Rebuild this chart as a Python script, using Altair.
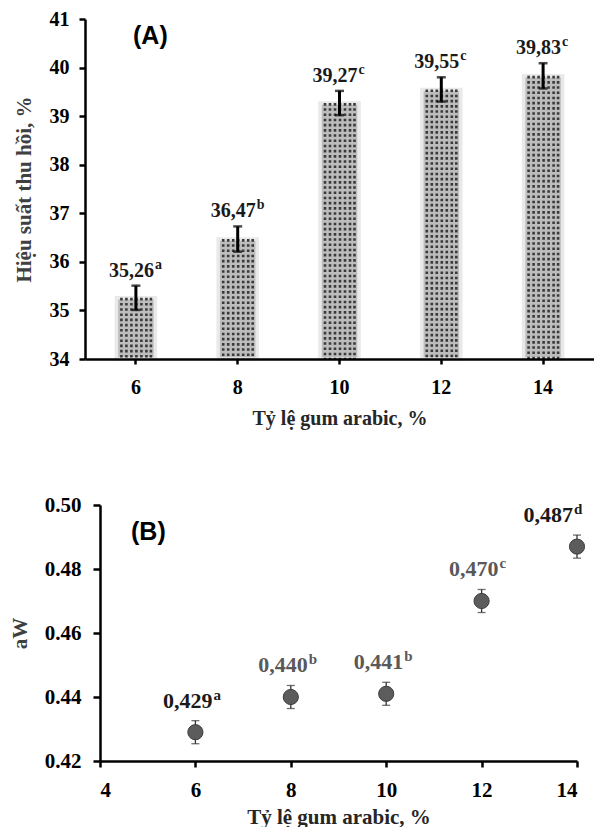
import altair as alt
import pandas as pd

# ---- data ----
gum = [6, 8, 10, 12, 14]
recovery = [35.26, 36.47, 39.27, 39.55, 39.83]
recovery_err = [0.25, 0.26, 0.25, 0.25, 0.26]
recovery_letters = ["a", "b", "c", "c", "c"]

aw = [0.429, 0.440, 0.441, 0.470, 0.487]
aw_err = [0.0036, 0.0036, 0.0036, 0.0036, 0.0036]
aw_letters = ["a", "b", "b", "c", "d"]

y_ticks_a = [34, 35, 36, 37, 38, 39, 40, 41]
x_ticks_b = [4, 6, 8, 10, 12, 14]
y_ticks_b = [0.42, 0.44, 0.46, 0.48, 0.50]

x_title = "Tỷ lệ gum arabic, %"
y_title_a = "Hiệu suất thu hồi, %"
y_title_b = "aW"

SERIF = "Times New Roman, Liberation Serif, serif"
SANS = "Arial, Liberation Sans, sans-serif"

dfa = pd.DataFrame({"gum": gum, "val": recovery, "err": recovery_err, "sup": recovery_letters})
dfa["lo"] = dfa["val"] - dfa["err"]
dfa["hi"] = dfa["val"] + dfa["err"]
dfa["lab"] = dfa["val"].map(lambda v: f"{v:.2f}".replace(".", ","))

dfb = pd.DataFrame({"gum": gum, "val": aw, "err": aw_err, "sup": aw_letters})
dfb["lo"] = dfb["val"] - dfb["err"]
dfb["hi"] = dfb["val"] + dfb["err"]
dfb["lab"] = dfb["val"].map(lambda v: f"{v:.3f}".replace(".", ","))

# ---------------- Panel A ----------------
ya_min = min(y_ticks_a)
xa = alt.X("gum:O", sort=gum,
           scale=alt.Scale(paddingInner=0, paddingOuter=0),
           axis=alt.Axis(title=x_title, labelAngle=0, labelFont=SERIF, labelFontSize=20,
                         labelFontWeight="bold", labelColor="#000000", labelPadding=13,
                         tickSize=5, tickWidth=2.5, tickColor="#000000",
                         domainWidth=2.5, domainColor="#000000",
                         titleFont=SERIF, titleFontSize=20, titleFontWeight="bold",
                         titleColor="#262626", titlePadding=11, zindex=1))
ya_scale = alt.Scale(domain=[ya_min, max(y_ticks_a)], nice=False, zero=False)
ya = alt.Y("val:Q", scale=ya_scale,
           axis=alt.Axis(title=y_title_a, values=y_ticks_a, grid=False,
                         labelFont=SERIF, labelFontSize=20, labelFontWeight="bold",
                         labelColor="#000000", labelPadding=10,
                         tickSize=6, tickWidth=2.5, tickColor="#000000",
                         domainWidth=2.5, domainColor="#000000",
                         titleFont=SERIF, titleFontSize=21, titleFontWeight="bold",
                         titleColor="#404040", titlePadding=15, zindex=1))

base_a = alt.Chart(dfa)

bars = base_a.mark_bar(size=39, fill="#bdbdbd", stroke="#e9e9e9", strokeWidth=3.5).encode(
    x=xa, y=ya, y2=alt.datum(ya_min))

dots = [
    base_a.mark_rule(xOffset=off, strokeDash=[2.6, 2.6], strokeWidth=2.6, color="#3a3a3a").encode(
        x=alt.X("gum:O", sort=gum), y=alt.Y("val:Q"), y2=alt.datum(ya_min))
    for off in [-14.5, -9.5, -4.5, 0.5, 5.5, 10.5, 15.0]
]

err_a = base_a.mark_rule(strokeWidth=3, color="#000000").encode(
    x=alt.X("gum:O", sort=gum), y=alt.Y("lo:Q"), y2="hi:Q")
cap_lo_a = base_a.mark_tick(size=9, thickness=2.5, color="#000000").encode(
    x=alt.X("gum:O", sort=gum), y=alt.Y("lo:Q"))
cap_hi_a = base_a.mark_tick(size=9, thickness=2.5, color="#000000").encode(
    x=alt.X("gum:O", sort=gum), y=alt.Y("hi:Q"))

lab_a = base_a.mark_text(align="right", baseline="alphabetic", dx=18, dy=-9,
                         font=SERIF, fontSize=20, fontWeight="bold", color="#1a1a1a").encode(
    x=alt.X("gum:O", sort=gum), y=alt.Y("hi:Q"), text="lab:N")
sup_a = base_a.mark_text(align="left", baseline="alphabetic", dx=19, dy=-17,
                         font=SERIF, fontSize=14, fontWeight="bold", color="#1a1a1a").encode(
    x=alt.X("gum:O", sort=gum), y=alt.Y("hi:Q"), text="sup:N")

tag_a = alt.Chart(pd.DataFrame({"t": ["(A)"]})).mark_text(
    align="left", baseline="alphabetic", font=SANS, fontSize=25, fontWeight="bold",
    color="#000000").encode(x=alt.value(48), y=alt.value(25), text="t:N")

panel_a = alt.layer(bars, *dots, err_a, cap_lo_a, cap_hi_a, lab_a, sup_a, tag_a).properties(
    width=509, height=340)

# ---------------- Panel B ----------------
# panel B's plot starts 15px to the right of panel A's
B_SHIFT = 15
B_W = 477
xb = alt.X("gum:Q", scale=alt.Scale(domain=[min(x_ticks_b), max(x_ticks_b)], nice=False, zero=False,
                                    range=[B_SHIFT, B_SHIFT + B_W]),
           axis=alt.Axis(title=x_title, values=x_ticks_b, grid=False, labelFont=SERIF,
                         labelFontSize=21, labelFontWeight="bold", labelColor="#000000",
                         labelPadding=12, tickSize=6, tickWidth=2.5, tickColor="#000000",
                         domainWidth=2.5, domainColor="#000000",
                         titleFont=SERIF, titleFontSize=21, titleFontWeight="bold",
                         titleColor="#262626", titlePadding=6, zindex=1))
yb = alt.Y("val:Q", scale=alt.Scale(domain=[min(y_ticks_b), max(y_ticks_b)], nice=False, zero=False),
           axis=alt.Axis(title=y_title_b, values=y_ticks_b, format=".2f", grid=False, offset=-B_SHIFT,
                         labelFont=SERIF, labelFontSize=21, labelFontWeight="bold",
                         labelColor="#000000", labelPadding=12,
                         tickSize=7, tickWidth=2.5, tickColor="#000000",
                         domainWidth=2.5, domainColor="#000000",
                         titleFont=SERIF, titleFontSize=21, titleFontWeight="bold",
                         titleColor="#404040", titlePadding=14, zindex=1))

base_b = alt.Chart(dfb)
err_b = base_b.mark_rule(strokeWidth=1.3, color="#333333").encode(
    x=alt.X("gum:Q"), y=alt.Y("lo:Q"), y2="hi:Q")
cap_lo_b = base_b.mark_tick(size=8, thickness=1.3, color="#333333", orient="horizontal").encode(
    x=alt.X("gum:Q"), y=alt.Y("lo:Q"))
cap_hi_b = base_b.mark_tick(size=8, thickness=1.3, color="#333333", orient="horizontal").encode(
    x=alt.X("gum:Q"), y=alt.Y("hi:Q"))
pts_b = base_b.mark_point(filled=True, size=230, fill="#5c5c5c", stroke="#3c3c3c",
                          strokeWidth=1, opacity=1, shape="circle").encode(x=xb, y=yb)

lab_color = alt.condition("datum.gum == 6 || datum.gum == 14",
                          alt.value("#1a1a1a"), alt.value("#595959"))
mid_b = base_b.transform_filter("datum.gum < 14")
last_b = base_b.transform_filter("datum.gum >= 14")

lab_b = mid_b.mark_text(align="right", baseline="alphabetic", dx=17, dy=-13,
                        font=SERIF, fontSize=22, fontWeight="bold").encode(
    x=alt.X("gum:Q"), y=alt.Y("hi:Q"), text="lab:N", color=lab_color)
sup_b = mid_b.mark_text(align="left", baseline="alphabetic", dx=18, dy=-21,
                        font=SERIF, fontSize=15, fontWeight="bold").encode(
    x=alt.X("gum:Q"), y=alt.Y("hi:Q"), text="sup:N", color=lab_color)
lab_b2 = last_b.mark_text(align="right", baseline="alphabetic", dx=-4, dy=-13,
                          font=SERIF, fontSize=22, fontWeight="bold").encode(
    x=alt.X("gum:Q"), y=alt.Y("hi:Q"), text="lab:N", color=lab_color)
sup_b2 = last_b.mark_text(align="left", baseline="alphabetic", dx=-3, dy=-21,
                          font=SERIF, fontSize=15, fontWeight="bold").encode(
    x=alt.X("gum:Q"), y=alt.Y("hi:Q"), text="sup:N", color=lab_color)

tag_b = alt.Chart(pd.DataFrame({"t": ["(B)"]})).mark_text(
    align="left", baseline="alphabetic", font=SANS, fontSize=25, fontWeight="bold",
    color="#000000").encode(x=alt.value(B_SHIFT + 31), y=alt.value(35), text="t:N")

panel_b = alt.layer(err_b, cap_lo_b, cap_hi_b, pts_b, lab_b, sup_b, lab_b2, sup_b2, tag_b).properties(
    width=B_SHIFT + B_W, height=256)

chart = alt.vconcat(panel_a, panel_b, spacing=66).properties(
    padding={"left": 1, "top": 1, "right": 0, "bottom": 0}, background="white"
).configure_view(stroke=None)

chart.save("out.html", embed_options={"renderer": "svg", "actions": False})
